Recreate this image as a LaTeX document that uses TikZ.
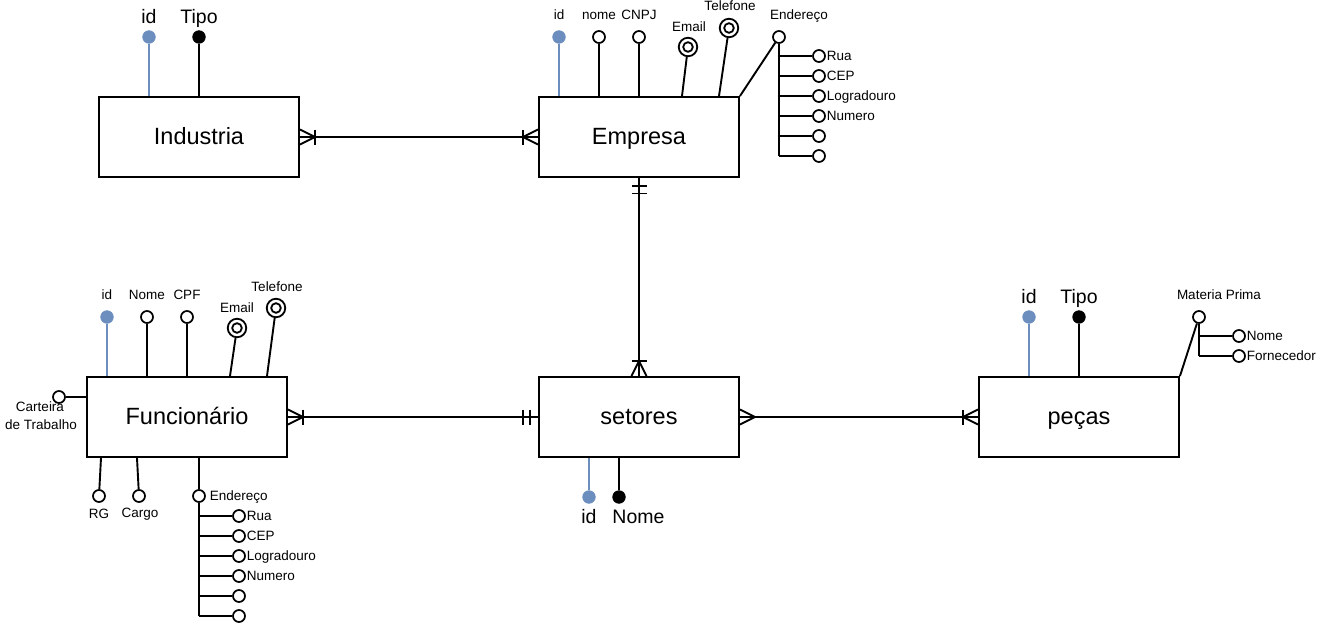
\documentclass[tikz,border=0pt]{standalone}
\usepackage{fontspec}
\setmainfont{Liberation Sans}
\usetikzlibrary{calc}
\definecolor{keyblue}{HTML}{6C8EBF}

\begin{document}
\begin{tikzpicture}[x=1pt,y=-1pt,line width=1.9pt,
  entity/.style={draw,line width=1.9pt,minimum width=200pt,minimum height=80pt,inner sep=0pt,
    font=\fontsize{23.5}{28}\selectfont,text height=16pt,text depth=2pt},
  attr/.style={circle,draw,fill=white,line width=1.7pt,minimum size=12pt,inner sep=0pt},
  pkey/.style={circle,draw=keyblue,fill=keyblue,line width=0.8pt,minimum size=12.5pt,inner sep=0pt},
  ukey/.style={circle,draw=black,fill=black,line width=0.8pt,minimum size=12.5pt,inner sep=0pt},
  mvattr/.style={circle,draw,fill=white,line width=1.8pt,minimum size=18.5pt,inner sep=0pt,
    path picture={\draw[line width=1.8pt] (path picture bounding box.center) circle (4.8pt);}},
  keyline/.style={draw=keyblue},
  smalltxt/.style={font=\fontsize{13.5}{16}\selectfont,inner sep=0pt},
  bigtxt/.style={font=\fontsize{19.5}{23}\selectfont,inner sep=0pt},
  pics/crowbar/.style={code={\draw (0,-7.5) -- (15,0) -- (0,7.5); \draw (15,-7.5) -- (15,7.5);}},
  pics/crowonly/.style={code={\draw (0,-7.5) -- (15,0) -- (0,7.5);}},
  pics/twobars/.style={code={\draw (8,-7.5) -- (8,7.5); \draw (15.5,-7.5) -- (15.5,7.5);}},
]
\useasboundingbox[fill=white] (0,0) rectangle (1320,634);

% entities
\node[entity] (ind) at (199,137) {Industria};
\node[entity] (emp) at (639,137) {Empresa};
\node[entity] (fun) at (187,417) {Funcionário};
\node[entity] (set) at (639,417) {setores};
\node[entity] (pec) at (1079,417) {peças};

% relationships
\draw (ind.east) -- (emp.west);
\pic at (ind.east) {crowbar};
\pic[rotate=180] at (emp.west) {crowbar};

\draw (emp.south) -- (set.north);
\pic[rotate=-90] at (emp.south) {twobars};
\pic[rotate=90] at (set.north) {crowbar};

\draw (fun.east) -- (set.west);
\pic at (fun.east) {crowbar};
\pic[rotate=180] at (set.west) {twobars};

\draw (set.east) -- (pec.west);
\pic at (set.east) {crowonly};
\pic[rotate=180] at (pec.west) {crowbar};

% Industria attributes
\node[pkey] (i-id) at (149,37) {};
\node[ukey] (i-tipo) at (199,37) {};
\draw[keyline] (i-id) -- (i-id |- ind.north);
\draw (i-tipo) -- (i-tipo |- ind.north);
\node[bigtxt,anchor=base] (t-i-id) at (149,24) {id};
\node[bigtxt,anchor=base] (t-i-tipo) at (199,24) {Tipo};

% Empresa attributes
\node[pkey] (e-id) at (559,37) {};
\node[attr] (e-nome) at (599,37) {};
\node[attr] (e-cnpj) at (639,37) {};
\node[mvattr] (e-mail) at (688,47) {};
\node[mvattr] (e-tel) at (729,28) {};
\node[attr] (e-end) at (779,37) {};
\draw[keyline] (e-id) -- (e-id |- emp.north);
\draw (e-nome) -- (e-nome |- emp.north);
\draw (e-cnpj) -- (e-cnpj |- emp.north);
\draw (e-mail) -- ([xshift=43pt]emp.north);
\draw (e-tel) -- ([xshift=80pt]emp.north);
\draw (e-end) -- (emp.north east);
\node[smalltxt,anchor=base] (t-e-id) at (559,20) {id};
\node[smalltxt,anchor=base] (t-e-nome) at (599,20) {nome};
\node[smalltxt,anchor=base] (t-e-cnpj) at (639,20) {CNPJ};
\node[smalltxt,anchor=base] (t-e-mail) at (689,32) {Email};
\node[smalltxt,anchor=base] (t-e-tel) at (730,11) {Telefone};
\node[smalltxt,anchor=base] (t-e-end) at (799,20) {Endereço};
\foreach \y/\n in {56/1,76/2,96/3,116/4,136/5,156/6}
  \node[attr] (e-s\n) at (819,\y) {};
\draw (e-end) -- (e-end |- e-s6);
\foreach \n in {1,...,6}
  \draw (e-end |- e-s\n) -- (e-s\n);
\node[smalltxt,anchor=base west] (t-e-s1) at (826,60.5) {Rua};
\node[smalltxt,anchor=base west] (t-e-s2) at (826,80.5) {CEP};
\node[smalltxt,anchor=base west] (t-e-s3) at (826,100.5) {Logradouro};
\node[smalltxt,anchor=base west] (t-e-s4) at (826,120.5) {Numero};

% Funcionário attributes
\node[pkey] (f-id) at (107,317) {};
\node[attr] (f-nome) at (147,317) {};
\node[attr] (f-cpf) at (187,317) {};
\node[mvattr] (f-mail) at (237,328) {};
\node[mvattr] (f-tel) at (276,308) {};
\node[attr] (f-ct) at (59,397) {};
\node[attr] (f-rg) at (99,496) {};
\node[attr] (f-cargo) at (139,496) {};
\node[attr] (f-end) at (199,496) {};
\draw[keyline] (f-id) -- (f-id |- fun.north);
\draw (f-nome) -- (f-nome |- fun.north);
\draw (f-cpf) -- (f-cpf |- fun.north);
\draw (f-mail) -- ([xshift=43pt]fun.north);
\draw (f-tel) -- ([xshift=80pt]fun.north);
\draw (f-ct) -- (f-ct -| fun.west);
\draw (f-rg) -- ([xshift=-86pt]fun.south);
\draw (f-cargo) -- ([xshift=-50pt]fun.south);
\draw (f-end) -- (f-end |- fun.south);
\node[smalltxt,anchor=base] (t-f-id) at (107,299) {id};
\node[smalltxt,anchor=base] (t-f-nome) at (147,299) {Nome};
\node[smalltxt,anchor=base] (t-f-cpf) at (187,299) {CPF};
\node[smalltxt,anchor=base] (t-f-mail) at (237,312) {Email};
\node[smalltxt,anchor=base] (t-f-tel) at (277,291) {Telefone};
\node[smalltxt,anchor=base] (t-f-ct1) at (40,411.5) {Carteira};
\node[smalltxt,anchor=base] (t-f-ct2) at (41,429.5) {de Trabalho};
\node[smalltxt,anchor=base] (t-f-rg) at (99,518.5) {RG};
\node[smalltxt,anchor=base] (t-f-cargo) at (140,517.5) {Cargo};
\node[smalltxt,anchor=base west] (t-f-end) at (209,500) {Endereço};
\foreach \y/\n in {516/1,536/2,556/3,576/4,596/5,616/6}
  \node[attr] (f-s\n) at (239,\y) {};
\draw (f-end) -- (f-end |- f-s6);
\foreach \n in {1,...,6}
  \draw (f-end |- f-s\n) -- (f-s\n);
\node[smalltxt,anchor=base west] (t-f-s1) at (246,520.5) {Rua};
\node[smalltxt,anchor=base west] (t-f-s2) at (246,540.5) {CEP};
\node[smalltxt,anchor=base west] (t-f-s3) at (246,560.5) {Logradouro};
\node[smalltxt,anchor=base west] (t-f-s4) at (246,580.5) {Numero};

% setores attributes
\node[pkey] (s-id) at (589,497) {};
\node[ukey] (s-nome) at (619,497) {};
\draw[keyline] (s-id) -- (s-id |- set.south);
\draw (s-nome) -- (s-nome |- set.south);
\node[bigtxt,anchor=base] (t-s-id) at (589,523) {id};
\node[bigtxt,anchor=base] (t-s-nome) at (638.5,523) {Nome};

% peças attributes
\node[pkey] (p-id) at (1029,317) {};
\node[ukey] (p-tipo) at (1079,317) {};
\node[attr] (p-mp) at (1199,317) {};
\draw[keyline] (p-id) -- (p-id |- pec.north);
\draw (p-tipo) -- (p-tipo |- pec.north);
\draw (p-mp) -- (pec.north east);
\node[bigtxt,anchor=base] (t-p-id) at (1029,303.5) {id};
\node[bigtxt,anchor=base] (t-p-tipo) at (1079,303.5) {Tipo};
\node[smalltxt,anchor=base] (t-p-mp) at (1219,299) {Materia Prima};
\node[attr] (p-s1) at (1239,336) {};
\node[attr] (p-s2) at (1239,356) {};
\draw (p-mp) -- (p-mp |- p-s2);
\draw (p-mp |- p-s1) -- (p-s1);
\draw (p-mp |- p-s2) -- (p-s2);
\node[smalltxt,anchor=base west] (t-p-s1) at (1246,340) {Nome};
\node[smalltxt,anchor=base west] (t-p-s2) at (1246,360) {Fornecedor};
\end{tikzpicture}
\end{document}
